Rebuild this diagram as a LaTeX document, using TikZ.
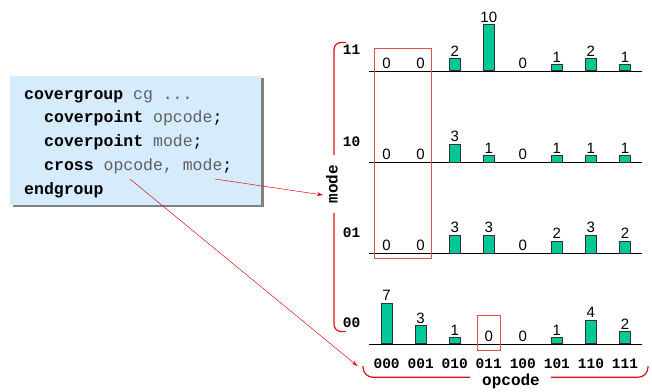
\documentclass[tikz,border=0pt]{standalone}
\usepackage{fontspec}
\setmainfont{Liberation Sans}
\newfontfamily\codefont{Liberation Mono}
\usetikzlibrary{arrows.meta}
\definecolor{barfill}{HTML}{00C896}
\definecolor{boxfill}{HTML}{D6EBFB}
\definecolor{shadowgray}{HTML}{808080}
\definecolor{codegray}{HTML}{606060}
\definecolor{brred}{HTML}{E01018}
\definecolor{boxred}{HTML}{E05050}
\tikzset{
  bar/.style={draw=black!80, line width=0.8pt, fill=barfill, minimum width=11pt, inner sep=0pt, anchor=south},
  vallab/.style={font=\fontsize{15}{15}\selectfont, inner sep=1.6pt, anchor=south},
  zerolab/.style={font=\fontsize{15}{15}\selectfont, inner sep=2.6pt, anchor=south},
  axisline/.style={line width=0.9pt, black},
  codeline/.style={font=\codefont\fontsize{16.5}{20}\selectfont, anchor=base west, inner sep=0pt},
  monolab/.style={font=\codefont\bfseries\fontsize{14.5}{15}\selectfont, inner sep=0pt},
  bigmono/.style={font=\codefont\bfseries\fontsize{16}{16}\selectfont, inner sep=0pt},
  bracket/.style={draw=brred, line width=1.2pt},
  hilite/.style={draw=boxred, line width=0.8pt},
  pointer/.style={draw=brred, line width=0.5pt, -{Stealth[length=6pt,width=4pt]}},
}
\begin{document}
\begin{tikzpicture}[x=1pt,y=-1pt]
\useasboundingbox (0,0) rectangle (652,391);
% code box
\fill[shadowgray] (13,78) rectangle (264,207);
\node[fill=boxfill, minimum width=251pt, minimum height=129pt, inner sep=0pt] (codebox) at (135.5,140.5) {};
\node[codeline] (l1) at (24,99.3) {\textbf{covergroup} \textcolor{codegray}{cg ...}};
\node[codeline] (l2) at (44,122.7) {\textbf{coverpoint} \textcolor{codegray}{opcode};};
\node[codeline] (l3) at (44,146.7) {\textbf{coverpoint} \textcolor{codegray}{mode};};
\node[codeline] (l4) at (44,170.3) {\textbf{cross} \textcolor{codegray}{opcode, mode};};
\node[codeline] (l5) at (24,194) {\textbf{endgroup}};
\coordinate (fromMode) at (215,179);
\coordinate (fromOpcode) at (130,179);
% rows
\foreach \ay/\lab/\vals in {71/11/{0,0,2,10,0,1,2,1},162.3/10/{0,0,3,1,0,1,1,1},253.3/01/{0,0,3,3,0,2,3,2},344/00/{7,3,1,0,0,1,4,2}}{
  \draw[axisline] (369,\ay) -- (642,\ay);
  \node[monolab] (row-\lab) at (351.5,\ay-21) {\lab};
  \foreach \v [count=\i from 0] in \vals {
    \pgfmathsetmacro\cx{386.6+34.05*\i}
    \ifnum\v=0
      \node[zerolab] (lab-\lab-\i) at (\cx,\ay) {0};
    \else
      \pgfmathsetmacro\h{{0,6.3,12,18,23.7,29,35,40.7,43,45,46}[\v]}
      \node[bar, minimum height=\h pt] (bar-\lab-\i) at (\cx,\ay) {};
      \node[vallab] (lab-\lab-\i) at (bar-\lab-\i.north) {\v};
    \fi
  }
}
% column labels
\foreach \t [count=\i from 0] in {000,001,010,011,100,101,110,111}{
  \pgfmathsetmacro\cx{386.6+34.05*\i}
  \node[monolab] (col-\i) at (\cx,363.3) {\t};
}
% highlight boxes
\draw[hilite] (374.3,48.3) rectangle (431.3,258.3);
\draw[hilite] (477.3,315.7) rectangle (500.3,350);
% mode bracket
\node[bigmono, rotate=90] (mode) at (332,184) {mode};
\draw[bracket, rounded corners=7pt] (346,42.5) -- (334,42.5) -- (334,155);
\draw[bracket, rounded corners=7pt] (334,213) -- (334,331.5) -- (346,331.5);
% opcode bracket
\node[bigmono] (opcode) at (511,381.5) {opcode};
\draw[bracket, rounded corners=10pt] (363,366) -- (363,377.3) -- (470,377.3);
\draw[bracket, rounded corners=10pt] (551,377.3) -- (648,377.3) -- (648,366);
% pointers
\coordinate (toMode) at (323,195);
\coordinate (toOpcode) at (357.5,366);
\draw[pointer] (fromMode) -- (toMode);
\draw[pointer] (fromOpcode) -- (toOpcode);
\end{tikzpicture}
\end{document}
